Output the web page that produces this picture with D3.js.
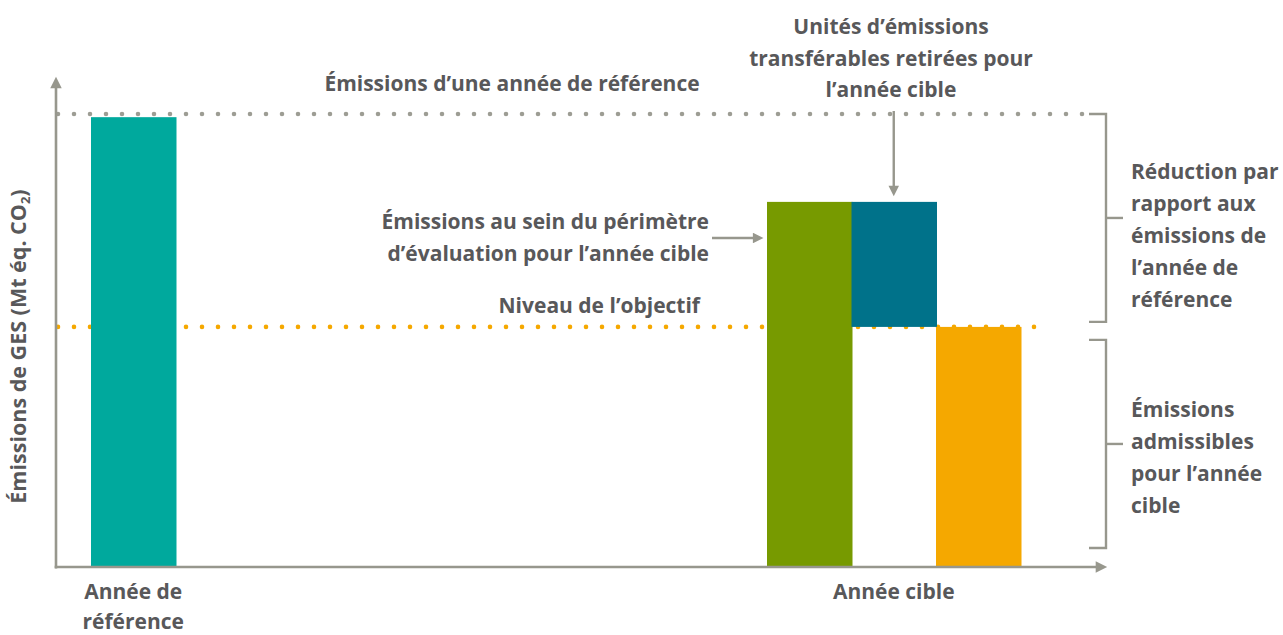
<!DOCTYPE html>
<html>
<head>
<meta charset="utf-8">
<script src="https://cdn.jsdelivr.net/npm/d3@7"></script>
<style>
  body { margin: 0; background: #fff; }
  text { font-family: "Open Sans", "Noto Sans", sans-serif; font-weight: 700; fill: #58585a; }
</style>
</head>
<body>
<div id="chart"></div>
<script>
// columns on the x axis (one band per slot)
var columns = ["ref", "c1", "c2", "c3", "c4", "c5", "c6", "c7", "inScope", "units", "allowable", "c11"];
var bars = [
    { col: "ref",       y0: 0,  y1: 99.3, color: "#00a99d" },
    { col: "inScope",   y0: 0,  y1: 80.6, color: "#779a00" },
    { col: "units",     y0: 53, y1: 80.6, color: "#00728a" },
    { col: "allowable", y0: 0,  y1: 53,   color: "#f5a800" }
];
var referenceLevel = 100;
var targetLevel = 53;
var categoryLabels = [
    { cols: ["ref"], lines: ["Année de", "référence"] },
    { cols: ["inScope", "allowable"], lines: ["Année cible"] }
];

var width = 1283, height = 635;
var axisColor = "#97978d";
var fs = "21px";

var svg = d3.select("#chart").append("svg")
    .attr("width", width)
    .attr("height", height);

var defs = svg.append("defs");
defs.append("marker")
    .attr("id", "arrow")
    .attr("viewBox", "0 0 10 10")
    .attr("refX", 2).attr("refY", 5)
    .attr("markerWidth", 5).attr("markerHeight", 4.4)
    .attr("markerUnits", "strokeWidth")
    .attr("orient", "auto")
    .append("path")
    .attr("d", "M0,0 L10,5 L0,10 Z")
    .attr("fill", axisColor);

var x = d3.scaleBand()
    .domain(columns)
    .range([91, 91 + 12 * 84.5]);

var y = d3.scaleLinear()
    .domain([0, 100])
    .range([567, 114]);

var axisX0 = 56;

// dotted reference lines (behind bars)
svg.append("line")
    .attr("x1", 58).attr("x2", 1086)
    .attr("y1", y(referenceLevel)).attr("y2", y(referenceLevel))
    .attr("stroke", "#9d9d94")
    .attr("stroke-width", 4.6)
    .attr("stroke-linecap", "round")
    .attr("stroke-dasharray", "0 16");

svg.append("line")
    .attr("x1", 58).attr("x2", 1046)
    .attr("y1", y(targetLevel)).attr("y2", y(targetLevel))
    .attr("stroke", "#f5a800")
    .attr("stroke-width", 4.6)
    .attr("stroke-linecap", "round")
    .attr("stroke-dasharray", "0 16");

// bars
svg.selectAll("rect.bar").data(bars)
    .enter()
    .append("rect")
    .attr("class", "bar")
    .attr("x", function(d){ return x(d.col); })
    .attr("width", x.bandwidth() + 1)
    .attr("y", function(d){ return y(d.y1); })
    .attr("height", function(d){ return y(d.y0) - y(d.y1); })
    .attr("fill", function(d){ return d.color; });

// axes with arrowheads
svg.append("line")
    .attr("x1", axisX0).attr("y1", y(0) + 1.5)
    .attr("x2", axisX0).attr("y2", 86)
    .attr("stroke", axisColor).attr("stroke-width", 2.6)
    .attr("marker-end", "url(#arrow)");

svg.append("line")
    .attr("x1", axisX0 - 1.3).attr("y1", y(0))
    .attr("x2", 1098).attr("y2", y(0))
    .attr("stroke", axisColor).attr("stroke-width", 2.6)
    .attr("marker-end", "url(#arrow)");

// y axis title
var yTitle = svg.append("text")
    .attr("transform", "translate(26," + ((y(0) + y(referenceLevel)) / 2 + 6) + ") rotate(-90)")
    .attr("text-anchor", "middle")
    .attr("font-size", "21.5px");
yTitle.append("tspan").text("Émissions de GES (Mt éq. CO");
yTitle.append("tspan").attr("font-size", "13px").attr("dy", 4).text("2");
yTitle.append("tspan").attr("dy", -4).text(")");

// category labels under the x axis
categoryLabels.forEach(function(c){
    var first = x(c.cols[0]);
    var last = x(c.cols[c.cols.length - 1]) + x.bandwidth();
    var t = svg.append("text")
        .attr("text-anchor", "middle")
        .attr("font-size", fs);
    c.lines.forEach(function(l, i){
        t.append("tspan")
            .attr("x", (first + last) / 2)
            .attr("y", 599 + i * 30)
            .text(l);
    });
});

function multiline(xPos, yPos, lines, anchor, lh) {
    var t = svg.append("text")
        .attr("text-anchor", anchor)
        .attr("font-size", fs);
    lines.forEach(function(l, i){
        t.append("tspan").attr("x", xPos).attr("y", yPos + i * lh).text(l);
    });
    return t;
}

// annotations
multiline(512, 91, ["Émissions d’une année de référence"], "middle", 32);
multiline(891, 34, ["Unités d’émissions", "transférables retirées pour", "l’année cible"], "middle", 31.5);
multiline(709, 229, ["Émissions au sein du périmètre", "d’évaluation pour l’année cible"], "end", 32);
multiline(700, 313, ["Niveau de l’objectif"], "end", 32);
multiline(1131, 179, ["Réduction par", "rapport aux", "émissions de", "l’année de", "référence"], "start", 32);
multiline(1131, 417, ["Émissions", "admissibles", "pour l’année", "cible"], "start", 32);

// pointer arrows
var unitsX = x("units") + x.bandwidth() / 2;
svg.append("line")
    .attr("x1", unitsX).attr("y1", y(referenceLevel) - 3)
    .attr("x2", unitsX).attr("y2", y(80.6) - 14)
    .attr("stroke", axisColor).attr("stroke-width", 2.4)
    .attr("marker-end", "url(#arrow)");

svg.append("line")
    .attr("x1", 712).attr("y1", 238)
    .attr("x2", x("inScope") - 12).attr("y2", 238)
    .attr("stroke", axisColor).attr("stroke-width", 2.4)
    .attr("marker-end", "url(#arrow)");

// brackets on the right
function bracket(top, bottom) {
    var bx = 1106;
    svg.append("path")
        .attr("d", "M1089," + top + " H" + bx + " V" + bottom + " H1089")
        .attr("fill", "none")
        .attr("stroke", axisColor)
        .attr("stroke-width", 2.4);
    svg.append("line")
        .attr("x1", bx).attr("x2", 1123)
        .attr("y1", (top + bottom) / 2).attr("y2", (top + bottom) / 2)
        .attr("stroke", axisColor)
        .attr("stroke-width", 2.4);
}
bracket(y(referenceLevel), y(targetLevel) - 5);
bracket(y(targetLevel) + 13, y(0) - 19);
</script>
</body>
</html>
